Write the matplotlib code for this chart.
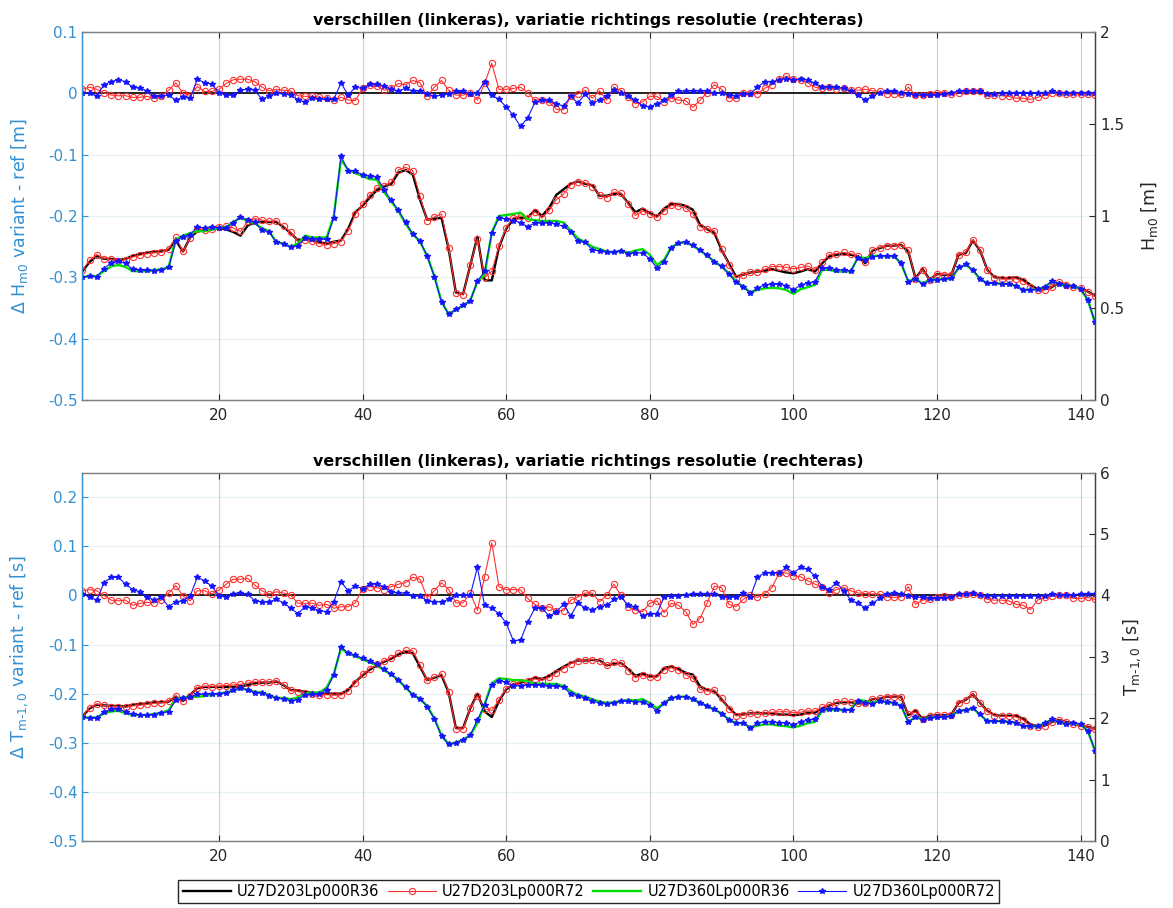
import numpy as np
import matplotlib
matplotlib.use("Agg")
import matplotlib.pyplot as plt

plt.rcParams["font.family"] = ["DejaVu Sans"]
plt.rcParams["mathtext.fontset"] = "dejavusans"
plt.rcParams["axes.unicode_minus"] = False

# output locations along the profile
x = np.arange(1, 143)

series_names = ["U27D203Lp000R36", "U27D203Lp000R72",
                "U27D360Lp000R36", "U27D360Lp000R72"]

# Hm0 [m] of the two R36 reference runs
hm0_d203_r36 = [
    0.700, 0.750, 0.783, 0.767, 0.767, 0.760, 0.767, 0.783, 0.793, 0.800,
    0.807, 0.807, 0.817, 0.867, 0.807, 0.883, 0.917, 0.923, 0.927, 0.933,
    0.927, 0.913, 0.893, 0.947, 0.967, 0.967, 0.967, 0.967, 0.940, 0.907,
    0.867, 0.873, 0.867, 0.857, 0.850, 0.860, 0.867, 0.930, 1.020, 1.055,
    1.100, 1.140, 1.160, 1.175, 1.235, 1.250, 1.225, 1.090, 0.980, 0.985,
    0.990, 0.820, 0.583, 0.575, 0.730, 0.887, 0.650, 0.650, 0.830, 0.930,
    0.983, 0.990, 0.990, 1.033, 1.000, 1.045, 1.115, 1.145, 1.175, 1.187,
    1.175, 1.167, 1.110, 1.110, 1.120, 1.120, 1.070, 1.020, 1.040, 1.015,
    0.997, 1.040, 1.065, 1.065, 1.055, 1.034, 0.952, 0.928, 0.907, 0.816,
    0.743, 0.671, 0.680, 0.693, 0.698, 0.702, 0.711, 0.702, 0.693, 0.689,
    0.698, 0.711, 0.698, 0.743, 0.780, 0.789, 0.794, 0.789, 0.780, 0.743,
    0.812, 0.825, 0.838, 0.838, 0.843, 0.807, 0.662, 0.711, 0.653, 0.685,
    0.680, 0.680, 0.789, 0.798, 0.867, 0.812, 0.707, 0.667, 0.662, 0.662,
    0.667, 0.653, 0.626, 0.602, 0.602, 0.613, 0.638, 0.626, 0.613, 0.607,
    0.589, 0.566]
hm0_d360_r36 = [
    0.667, 0.673, 0.673, 0.700, 0.727, 0.733, 0.723, 0.700, 0.700, 0.700,
    0.707, 0.710, 0.723, 0.873, 0.893, 0.907, 0.917, 0.917, 0.927, 0.933,
    0.940, 0.967, 0.990, 0.973, 0.960, 0.933, 0.917, 0.857, 0.850, 0.833,
    0.850, 0.893, 0.883, 0.883, 0.883, 1.000, 1.307, 1.250, 1.233, 1.217,
    1.200, 1.197, 1.130, 1.078, 1.027, 0.957, 0.900, 0.860, 0.783, 0.674,
    0.534, 0.467, 0.490, 0.512, 0.540, 0.644, 0.680, 0.910, 1.000, 1.005,
    1.011, 1.018, 0.982, 0.977, 0.973, 0.973, 0.973, 0.964, 0.920, 0.878,
    0.857, 0.833, 0.820, 0.807, 0.800, 0.812, 0.800, 0.812, 0.820, 0.789,
    0.734, 0.762, 0.830, 0.852, 0.856, 0.838, 0.812, 0.783, 0.752, 0.725,
    0.689, 0.644, 0.617, 0.584, 0.598, 0.607, 0.610, 0.607, 0.598, 0.577,
    0.602, 0.613, 0.626, 0.707, 0.707, 0.698, 0.698, 0.698, 0.776, 0.771,
    0.783, 0.783, 0.780, 0.780, 0.743, 0.644, 0.662, 0.631, 0.656, 0.656,
    0.656, 0.662, 0.716, 0.734, 0.704, 0.656, 0.635, 0.635, 0.631, 0.631,
    0.620, 0.598, 0.598, 0.602, 0.613, 0.644, 0.631, 0.620, 0.620, 0.602,
    0.544, 0.421]

# Hm0 difference R72 - R36 [m] for both directions
dhm0_d203 = [
    0.0065, 0.010, 0.0065, 0.001, -0.003, -0.004, -0.004, -0.0065, -0.0065, -0.005,
    -0.008, -0.005, 0.005, 0.017, 0.000, -0.003, 0.011, 0.003, 0.003, 0.0065,
    0.016, 0.022, 0.023, 0.023, 0.019, 0.010, 0.004, 0.0065, 0.005, 0.004,
    -0.004, -0.005, -0.005, -0.0065, -0.008, -0.011, -0.0065, -0.011, -0.012, 0.008,
    0.014, 0.012, 0.005, 0.008, 0.016, 0.014, 0.021, 0.017, -0.005, 0.010,
    0.021, 0.005, -0.003, -0.003, 0.001, -0.011, 0.016, 0.049, 0.0065, 0.0065,
    0.008, 0.010, 0.001, -0.011, -0.011, -0.015, -0.026, -0.027, -0.005, -0.001,
    0.005, -0.008, 0.004, -0.011, 0.010, 0.004, -0.0065, -0.017, -0.014, -0.005,
    -0.005, -0.014, -0.008, -0.011, -0.012, -0.023, -0.011, 0.001, 0.014, 0.0065,
    -0.008, -0.008, 0.000, 0.001, -0.001, 0.008, 0.014, 0.023, 0.028, 0.024,
    0.022, 0.017, 0.010, 0.008, 0.010, 0.0065, 0.008, 0.005, 0.005, 0.0065,
    0.004, 0.003, -0.001, -0.001, -0.001, 0.010, -0.003, -0.003, -0.001, 0.000,
    0.001, -0.001, 0.001, 0.004, 0.003, 0.003, -0.003, -0.003, -0.004, -0.005,
    -0.008, -0.008, -0.010, -0.0065, -0.003, 0.000, 0.001, -0.001, -0.001, -0.001,
    -0.001, -0.003]
dhm0_d360 = [
    0.001, 0.000, -0.004, 0.014, 0.019, 0.022, 0.019, 0.010, 0.008, 0.004,
    -0.005, -0.005, -0.003, -0.011, -0.0065, -0.008, 0.023, 0.017, 0.015, 0.001,
    -0.003, -0.003, 0.005, 0.0065, 0.005, -0.010, -0.004, 0.000, -0.001, -0.003,
    -0.011, -0.014, -0.008, -0.010, -0.010, -0.010, 0.017, -0.003, 0.010, 0.008,
    0.015, 0.015, 0.012, 0.0065, 0.004, 0.008, 0.004, 0.004, -0.001, -0.005,
    -0.003, -0.001, 0.003, 0.003, -0.001, 0.001, 0.019, -0.003, -0.010, -0.022,
    -0.036, -0.054, -0.040, -0.015, -0.011, -0.011, -0.017, -0.021, -0.005, -0.016,
    -0.001, -0.016, -0.011, -0.004, 0.005, 0.000, -0.005, -0.011, -0.021, -0.022,
    -0.017, -0.011, -0.003, 0.003, 0.004, 0.004, 0.004, 0.004, 0.000, 0.001,
    -0.003, -0.004, -0.001, -0.001, 0.010, 0.019, 0.019, 0.022, 0.024, 0.021,
    0.023, 0.022, 0.016, 0.011, 0.010, 0.010, 0.008, 0.003, -0.003, -0.011,
    -0.005, 0.001, 0.003, 0.003, 0.001, -0.001, -0.003, -0.003, -0.003, -0.003,
    -0.001, 0.000, 0.004, 0.004, 0.004, 0.003, -0.001, -0.001, 0.000, 0.000,
    0.000, 0.000, 0.000, 0.000, 0.000, 0.003, 0.001, 0.001, 0.001, 0.001,
    0.001, 0.001]

# Tm-1,0 [s] of the two R36 reference runs
tm_d203_r36 = [
    2.03, 2.16, 2.22, 2.21, 2.20, 2.20, 2.19, 2.22, 2.23, 2.24,
    2.26, 2.26, 2.27, 2.35, 2.28, 2.38, 2.49, 2.51, 2.51, 2.51,
    2.51, 2.51, 2.52, 2.54, 2.57, 2.58, 2.58, 2.60, 2.54, 2.46,
    2.45, 2.43, 2.41, 2.40, 2.40, 2.40, 2.40, 2.46, 2.59, 2.70,
    2.79, 2.86, 2.92, 2.97, 3.04, 3.08, 3.06, 2.84, 2.62, 2.66,
    2.70, 2.42, 1.84, 1.84, 2.16, 2.40, 2.11, 2.02, 2.28, 2.47,
    2.55, 2.58, 2.61, 2.66, 2.64, 2.69, 2.77, 2.84, 2.90, 2.94,
    2.94, 2.95, 2.94, 2.86, 2.89, 2.90, 2.80, 2.69, 2.73, 2.68,
    2.68, 2.82, 2.84, 2.80, 2.74, 2.71, 2.52, 2.46, 2.44, 2.31,
    2.17, 2.06, 2.06, 2.08, 2.08, 2.08, 2.08, 2.06, 2.06, 2.05,
    2.06, 2.09, 2.09, 2.16, 2.21, 2.25, 2.26, 2.26, 2.24, 2.25,
    2.31, 2.32, 2.35, 2.35, 2.35, 2.05, 2.12, 1.99, 2.04, 2.05,
    2.05, 2.06, 2.25, 2.30, 2.39, 2.25, 2.12, 2.05, 2.04, 2.04,
    2.04, 1.99, 1.90, 1.87, 1.88, 1.94, 1.97, 1.94, 1.92, 1.88,
    1.86, 1.83]
tm_d360_r36 = [
    2.01, 2.01, 2.01, 2.08, 2.11, 2.12, 2.08, 2.05, 2.05, 2.05,
    2.07, 2.09, 2.13, 2.31, 2.34, 2.35, 2.35, 2.36, 2.38, 2.40,
    2.42, 2.45, 2.49, 2.46, 2.43, 2.42, 2.38, 2.33, 2.33, 2.31,
    2.34, 2.40, 2.42, 2.42, 2.50, 2.72, 3.14, 3.05, 3.01, 2.96,
    2.91, 2.86, 2.78, 2.71, 2.62, 2.50, 2.38, 2.32, 2.20, 2.00,
    1.72, 1.58, 1.60, 1.65, 1.72, 1.92, 2.23, 2.57, 2.65, 2.64,
    2.62, 2.62, 2.60, 2.56, 2.56, 2.56, 2.56, 2.52, 2.44, 2.38,
    2.35, 2.31, 2.27, 2.25, 2.26, 2.28, 2.30, 2.29, 2.31, 2.25,
    2.16, 2.25, 2.33, 2.35, 2.35, 2.31, 2.25, 2.20, 2.14, 2.08,
    1.98, 1.92, 1.92, 1.85, 1.88, 1.90, 1.90, 1.88, 1.87, 1.85,
    1.88, 1.92, 1.94, 2.12, 2.14, 2.13, 2.13, 2.14, 2.30, 2.28,
    2.25, 2.28, 2.26, 2.25, 2.20, 1.94, 2.02, 1.98, 2.01, 2.02,
    2.02, 2.04, 2.12, 2.13, 2.16, 2.06, 1.95, 1.95, 1.95, 1.94,
    1.93, 1.87, 1.87, 1.87, 1.92, 1.98, 1.94, 1.90, 1.92, 1.90,
    1.79, 1.47]

# Tm-1,0 difference R72 - R36 [s] for both directions
dtm_d203 = [
    0.0095, 0.012, 0.0095, 0.000, -0.0095, -0.011, -0.0095, -0.020, -0.016, -0.014,
    -0.015, -0.0095, 0.005, 0.020, -0.001, -0.011, 0.0095, 0.0095, 0.003, 0.011,
    0.023, 0.033, 0.033, 0.035, 0.021, 0.0095, 0.003, 0.0075, 0.005, 0.001,
    -0.016, -0.016, -0.016, -0.020, -0.018, -0.026, -0.023, -0.023, -0.015, 0.014,
    0.018, 0.016, 0.012, 0.018, 0.023, 0.026, 0.037, 0.033, -0.004, 0.0095,
    0.026, 0.012, -0.015, -0.015, 0.005, -0.030, 0.038, 0.107, 0.018, 0.012,
    0.012, 0.011, -0.006, -0.018, -0.026, -0.023, -0.031, -0.031, -0.0095, -0.003,
    0.005, 0.005, -0.013, 0.000, 0.023, 0.000, -0.023, -0.030, -0.033, -0.016,
    -0.011, -0.035, -0.016, -0.020, -0.033, -0.059, -0.047, -0.015, 0.019, 0.016,
    -0.018, -0.023, -0.008, 0.001, -0.004, 0.004, 0.016, 0.045, 0.046, 0.040,
    0.038, 0.030, 0.023, 0.018, 0.005, 0.012, 0.016, 0.0095, 0.005, 0.004,
    0.003, 0.003, -0.003, -0.004, -0.003, 0.018, -0.018, -0.0095, -0.008, -0.004,
    -0.001, -0.003, 0.001, 0.003, 0.004, 0.001, -0.008, -0.0095, -0.0095, -0.011,
    -0.018, -0.020, -0.029, -0.0095, -0.004, -0.001, 0.001, 0.001, -0.006, -0.006,
    -0.004, -0.008]
dtm_d360 = [
    0.003, -0.003, -0.0095, 0.026, 0.037, 0.037, 0.023, 0.012, 0.0075, -0.003,
    -0.0095, -0.004, -0.023, -0.013, -0.011, -0.001, 0.037, 0.030, 0.019, -0.001,
    -0.003, 0.004, 0.005, 0.003, -0.011, -0.013, -0.013, -0.008, -0.015, -0.026,
    -0.037, -0.023, -0.026, -0.031, -0.033, -0.013, 0.028, 0.0095, 0.019, 0.014,
    0.023, 0.023, 0.018, 0.0075, 0.005, 0.005, -0.001, -0.001, -0.011, -0.013,
    -0.013, -0.008, 0.001, 0.001, 0.001, 0.057, -0.020, -0.026, -0.037, -0.056,
    -0.092, -0.091, -0.054, -0.026, -0.026, -0.042, -0.033, -0.018, -0.042, -0.015,
    -0.026, -0.029, -0.023, -0.020, -0.008, -0.003, -0.020, -0.023, -0.042, -0.037,
    -0.037, -0.003, -0.001, -0.001, 0.001, 0.004, 0.004, 0.004, 0.003, -0.003,
    -0.004, -0.003, 0.005, -0.003, 0.037, 0.046, 0.046, 0.046, 0.057, 0.046,
    0.057, 0.053, 0.040, 0.018, 0.012, 0.026, 0.0095, -0.0095, -0.016, -0.025,
    -0.016, -0.006, 0.004, 0.005, 0.003, -0.001, -0.003, -0.004, -0.006, -0.006,
    -0.006, -0.004, 0.004, 0.004, 0.005, 0.001, -0.001, -0.001, -0.001, -0.001,
    -0.001, -0.001, -0.001, -0.001, -0.001, 0.004, 0.001, 0.001, 0.001, 0.003,
    0.004, 0.004]

LEFT_COLOR = "#3390d2"
RIGHT_COLOR = "#262626"
RED = "#ff3030"
BLUE = "#1414ff"
TITLE = "verschillen (linkeras), variatie richtings resolutie (rechteras)"


def draw_panel(ax, ref203, ref360, diff203, diff360, left_ticks, left_lim,
               right_ticks, right_lim, left_label, right_label, right_label_x):
    ref203 = np.array(ref203)
    ref360 = np.array(ref360)
    diff203 = np.array(diff203)
    diff360 = np.array(diff360)

    # left axis: differences with respect to the R36 run of the same direction
    ax.plot(x, diff203, color=RED, lw=0.8, marker="o", ms=4.5,
            mfc="none", mew=0.8, zorder=3)
    ax.plot(x, diff360, color=BLUE, lw=0.8, marker="*", ms=4, zorder=3)
    ax.plot(x, ref203 - ref203, color="#222222", lw=1.4, zorder=2)
    ax.set_xlim(1, 142)
    ax.set_ylim(*left_lim)
    ax.set_yticks(left_ticks)
    ax.set_yticklabels(["%g" % t for t in left_ticks])
    ax.set_xticks(range(20, 141, 20))
    ax.tick_params(axis="y", colors=LEFT_COLOR, direction="in", length=4,
                   labelsize=11)
    ax.tick_params(axis="x", colors=RIGHT_COLOR, direction="in", length=4,
                   labelsize=11, top=True, pad=6)
    ax.grid(axis="y", color=LEFT_COLOR, alpha=0.12, lw=0.8)
    ax.grid(axis="x", color="#d0d0d0", lw=0.8)
    ax.set_axisbelow(True)
    ax.set_ylabel(left_label, color=LEFT_COLOR, fontsize=12.5)
    ax.yaxis.set_label_coords(-0.052, 0.5)
    ax.set_title(TITLE, fontweight="bold", fontsize=11.5, pad=5)

    # right axis: the absolute values of all four runs
    axr = ax.twinx()
    lines = []
    lines += axr.plot(x, ref203, color="k", lw=1.7)
    lines += axr.plot(x, ref203 + diff203, color=RED, lw=0.8,
                      marker="o", ms=4.5, mfc="none", mew=0.8)
    lines += axr.plot(x, ref360, color="#00e000", lw=1.7)
    lines += axr.plot(x, ref360 + diff360, color=BLUE, lw=0.8,
                      marker="*", ms=4)
    axr.set_ylim(*right_lim)
    axr.set_yticks(right_ticks)
    axr.set_yticklabels(["%g" % t for t in right_ticks])
    axr.tick_params(axis="y", colors=RIGHT_COLOR, direction="in", length=4,
                    labelsize=11)
    axr.set_ylabel(right_label, color=RIGHT_COLOR, fontsize=12.5)
    axr.yaxis.set_label_coords(right_label_x, 0.5)

    for a in (ax, axr):
        a.spines["left"].set_color(LEFT_COLOR)
        a.spines["right"].set_color("#404040")
        a.spines["top"].set_color("#808080")
        a.spines["bottom"].set_color("#808080")
        for s in a.spines.values():
            s.set_linewidth(0.9)
    return lines


fig = plt.figure(figsize=(11.73, 9.08), dpi=100)
ax_h = fig.add_axes([0.0703, 0.5595, 0.8632, 0.4053])
ax_t = fig.add_axes([0.0703, 0.0738, 0.8632, 0.4056])

lines = draw_panel(ax_h, hm0_d203_r36, hm0_d360_r36, dhm0_d203, dhm0_d360,
                   [-0.5, -0.4, -0.3, -0.2, -0.1, 0, 0.1], (-0.5, 0.1),
                   [0, 0.5, 1, 1.5, 2], (0, 2),
                   r"Δ H$_{\mathregular{m0}}$ variant - ref [m]",
                   r"H$_{\mathregular{m0}}$ [m]", 1.043)

draw_panel(ax_t, tm_d203_r36, tm_d360_r36, dtm_d203, dtm_d360,
           [-0.5, -0.4, -0.3, -0.2, -0.1, 0, 0.1, 0.2], (-0.5, 0.25),
           [0, 1, 2, 3, 4, 5, 6], (0, 6),
           r"Δ T$_{\mathregular{m\text{-}1,0}}$ variant - ref [s]",
           r"T$_{\mathregular{m\text{-}1,0}}$ [s]", 1.026)

fig.legend(lines, series_names, loc="lower center", ncol=4,
           bbox_to_anchor=(0.502, -0.003), fontsize=10.5, frameon=True,
           fancybox=False, edgecolor="#262626", framealpha=1,
           handlelength=3.3, columnspacing=0.6, handletextpad=0.4,
           borderpad=0.3)

fig.savefig("out.png", dpi=100)
